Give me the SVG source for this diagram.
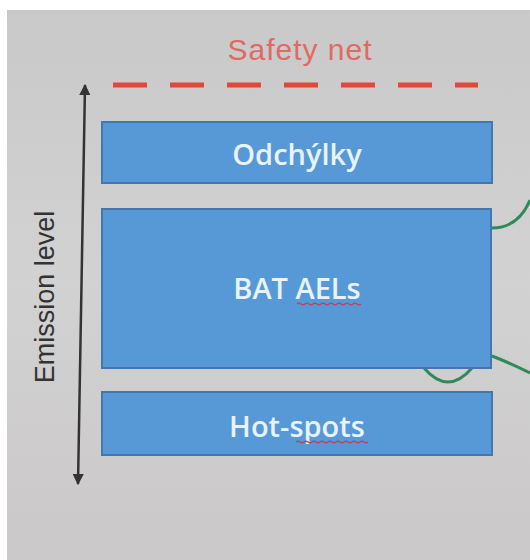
<svg xmlns="http://www.w3.org/2000/svg" width="530" height="560" viewBox="0 0 530 560">
  <defs>
    <linearGradient id="bg" x1="0" y1="0" x2="0" y2="1">
      <stop offset="0" stop-color="#c9c9c9"/>
      <stop offset="0.5" stop-color="#d2d2d3"/>
      <stop offset="1" stop-color="#cbc8c9"/>
    </linearGradient>
    <marker id="head" viewBox="0 0 10 10" refX="9" refY="5" markerWidth="4.5" markerHeight="4.5" orient="auto-start-reverse">
      <path d="M0,0 L10,5 L0,10 z" fill="#333"/>
    </marker>
    <style>
      .box { fill: #5799d6; stroke: #4577ad; stroke-width: 2; }
      .label { font-family: "Open Sans", "Liberation Sans", sans-serif; font-size: 29px; font-weight: 600; fill: #e8f3ff; text-anchor: middle; }
      .spell { fill: none; stroke: #c2405a; stroke-width: 1.5; }
      .link { fill: none; stroke: #2f8a5a; stroke-width: 3; }
    </style>
  </defs>

  <!-- page and backdrop -->
  <rect width="530" height="560" fill="#ffffff"/>
  <rect x="7" y="10" width="523" height="550" fill="url(#bg)"/>

  <!-- safety net -->
  <text x="300" y="60" font-family="Liberation Sans, Arial, sans-serif" font-size="30" letter-spacing="1" fill="#e06a62" text-anchor="middle">Safety net</text>
  <line x1="113" y1="85" x2="478" y2="85" stroke="#e0483a" stroke-width="5" stroke-dasharray="34 23"/>

  <!-- emission level axis -->
  <g id="axis">
    <line x1="85" y1="85" x2="78" y2="484" stroke="#333" stroke-width="2.5" marker-start="url(#head)" marker-end="url(#head)"/>
    <text transform="translate(54,297) rotate(-90)" font-family="Liberation Sans, Arial, sans-serif" font-size="27" fill="#333" text-anchor="middle">Emission level</text>
  </g>

  <!-- connectors -->
  <g id="connectors">
    <path class="link" d="M492,228 C510,228 522,219 530,200"/>
    <path class="link" d="M492,356 C505,361 518,367 530,373"/>
    <path class="link" d="M424,368 Q448,396 472,368"/>
  </g>

  <g id="odchylky">
    <rect class="box" x="102" y="122" width="390" height="61"/>
    <text class="label" x="297" y="165">Odchýlky</text>
  </g>

  <g id="bat-aels">
    <rect class="box" x="102" y="209" width="389" height="159"/>
    <text class="label" x="297" y="299">BAT AELs</text>
    <path class="spell" d="M297,304 q2,-1.5 4,0 t4,0 t4,0 t4,0 t4,0 t4,0 t4,0 t4,0 t4,0 t4,0 t4,0 t4,0 t4,0 t4,0 t4,0 t4,0"/>
  </g>

  <g id="hot-spots">
    <rect class="box" x="102" y="392" width="390" height="63"/>
    <text class="label" x="297" y="437">Hot-spots</text>
    <path class="spell" d="M296,442 q2,-1.5 4,0 t4,0 t4,0 t4,0 t4,0 t4,0 t4,0 t4,0 t4,0 t4,0 t4,0 t4,0 t4,0 t4,0 t4,0 t4,0 t4,0 t4,0"/>
  </g>
</svg>
